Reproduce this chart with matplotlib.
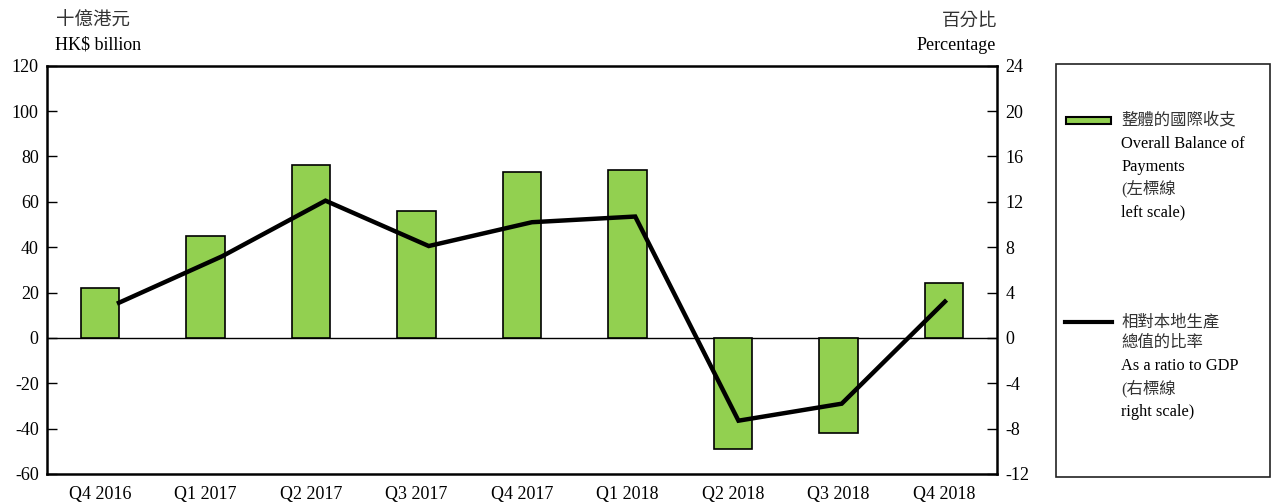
import matplotlib
matplotlib.use("Agg")
import matplotlib.pyplot as plt
from matplotlib.patches import Rectangle
from matplotlib.lines import Line2D
import numpy as np

plt.rcParams['font.family'] = ['Liberation Serif', 'Noto Sans CJK TC']

quarters = ["Q4 2016", "Q1 2017", "Q2 2017", "Q3 2017", "Q4 2017",
            "Q1 2018", "Q2 2018", "Q3 2018", "Q4 2018"]
# overall balance of payments, HK$ billion (left scale)
bop = [22.0, 45.0, 76.2, 56.1, 73.2, 74.1, -49.1, -41.8, 24.1]
# as a ratio to GDP, % (right scale)
ratio = [3.1, 7.2, 12.1, 8.1, 10.2, 10.7, -7.3, -5.8, 3.2]

left_ticks = [-60, -40, -20, 0, 20, 40, 60, 80, 100, 120]
right_ticks = [-12, -8, -4, 0, 4, 8, 12, 16, 20, 24]

GREEN = "#92D050"
FS = 13

fig = plt.figure(figsize=(12.73, 5.03), dpi=100)
rect = [47 / 1273, 29 / 503, 950 / 1273, 408.3 / 503]
ax = fig.add_axes(rect)

x = np.arange(len(quarters))
ax.bar(x, bop, width=0.365, color=GREEN, edgecolor="black", linewidth=1.2, zorder=2)
ax.axhline(0, color="black", lw=1, zorder=1)
ax.set_xlim(-0.5, len(quarters) - 0.5)
ax.set_ylim(-60, 120)
ax.set_yticks(left_ticks)
ax.set_yticklabels([str(t) for t in left_ticks], fontsize=FS)
ax.set_xticks(x)
ax.set_xticklabels(quarters, fontsize=FS)
ax.tick_params(axis="x", length=0, pad=9)
ax.tick_params(axis="y", direction="in", length=7, width=1, pad=6)
for s in ax.spines.values():
    s.set_linewidth(1.8)

# line on its own axes (slightly different horizontal spacing in the original)
ax2 = fig.add_axes(rect)
ax2.patch.set_visible(False)
ax2.plot(x, ratio, color="black", lw=3.2, solid_joinstyle="miter", zorder=3)
ax2.set_xlim(-0.697, 8.504)
ax2.set_ylim(-12, 24)
ax2.set_xticks([])
ax2.yaxis.tick_right()
ax2.set_yticks(right_ticks)
ax2.set_yticklabels([str(t) for t in right_ticks], fontsize=FS)
ax2.tick_params(axis="y", direction="in", length=7, width=1, pad=6)
for s in ax2.spines.values():
    s.set_visible(False)

# axis unit titles
fig.text(56 / 1273, 1 - 21 / 503, "十億港元", fontsize=13.3, va="center", ha="left", color="#333333")
fig.text(55 / 1273, 1 - 45 / 503, "HK$ billion", fontsize=FS, va="center", ha="left")
fig.text(997 / 1273, 1 - 21 / 503, "百分比", fontsize=13.3, va="center", ha="right", color="#333333")
fig.text(996 / 1273, 1 - 45 / 503, "Percentage", fontsize=FS, va="center", ha="right")

# legend box
fig.add_artist(Rectangle((1056 / 1273, 1 - 477 / 503), 214 / 1273, 413 / 503,
                         transform=fig.transFigure, fill=False, edgecolor="#222222", lw=1.2))
fig.add_artist(Rectangle((1066 / 1273, 1 - 124 / 503), 45 / 1273, 7 / 503,
                         transform=fig.transFigure, facecolor=GREEN, edgecolor="black", lw=1.5))
fig.add_artist(Line2D([1065 / 1273, 1112 / 1273], [1 - 322 / 503, 1 - 322 / 503],
                      transform=fig.transFigure, color="black", lw=3))

LFS = 11.8
tx = 1121 / 1273
legend_lines = [
    (120, "整體的國際收支", "#333333"),
    (144, "Overall Balance of", "black"),
    (167, "Payments", "black"),
    (189, "(左標線", "#333333"),
    (212, "left scale)", "black"),
    (322, "相對本地生產", "#333333"),
    (343, "總值的比率", "#333333"),
    (366, "As a ratio to GDP", "black"),
    (389, "(右標線", "#333333"),
    (412, "right scale)", "black"),
]
for yy, txt, col in legend_lines:
    fig.text(tx, 1 - yy / 503, txt, fontsize=LFS, va="center", ha="left", color=col)

fig.savefig("out.png", dpi=100)
